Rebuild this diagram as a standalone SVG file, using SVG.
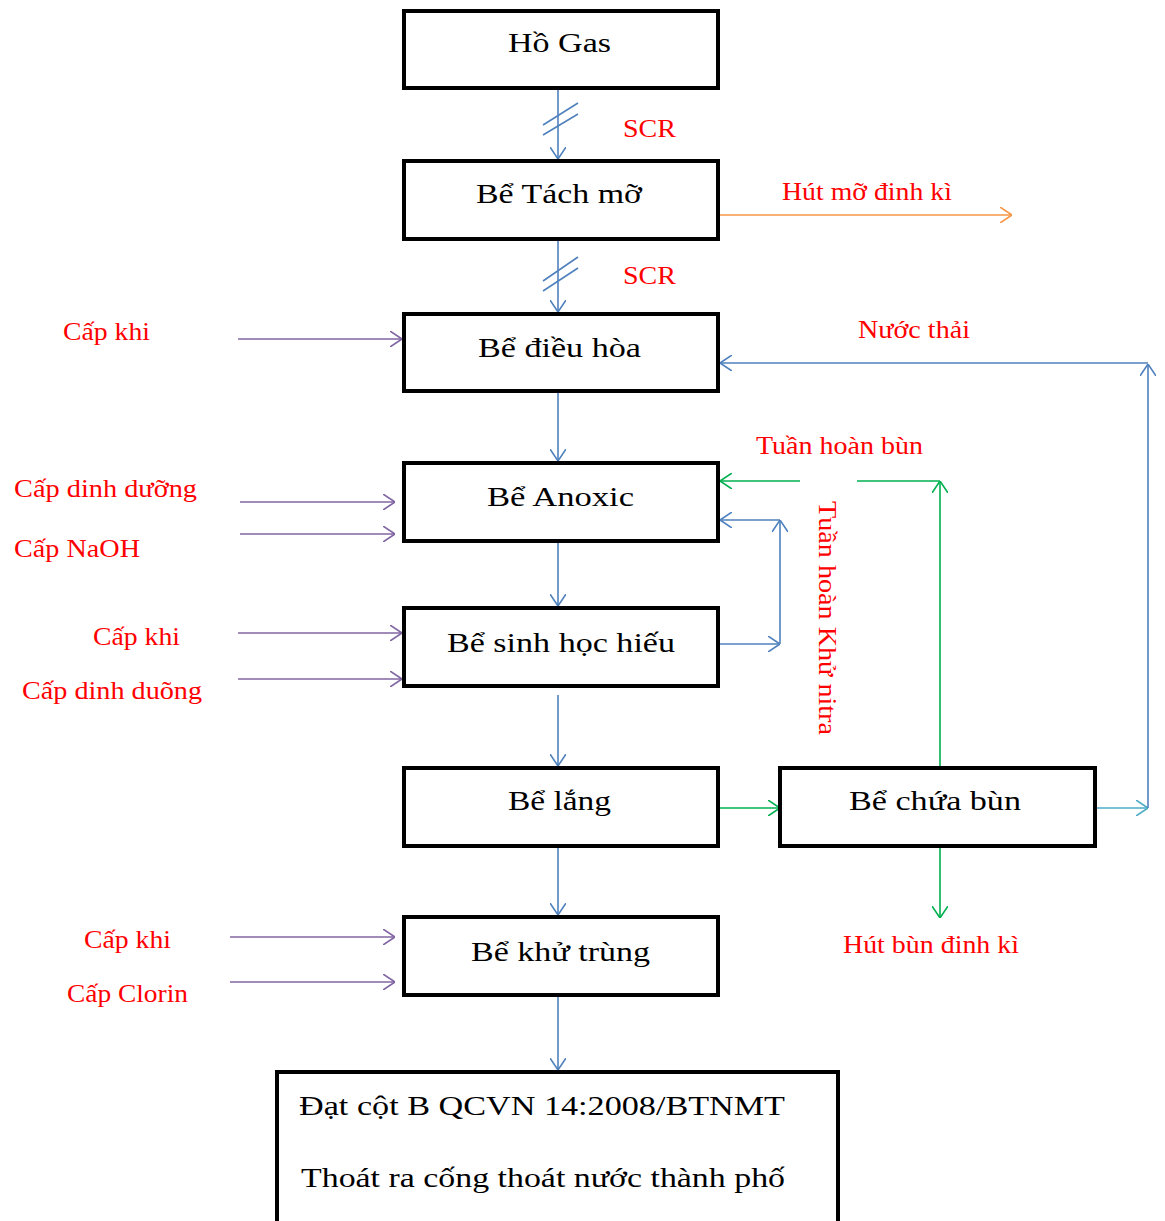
<svg xmlns="http://www.w3.org/2000/svg" width="1165" height="1221" viewBox="0 0 1165 1221">
<style>
.box{fill:#fff;stroke:#000;stroke-width:4}
text{font-family:"Liberation Serif",Tinos,"Times New Roman",Times,"Nimbus Roman","Noto Serif",serif}
.nt{font-size:28px;fill:#000}
.lb{font-size:26px;fill:#ff0000}
.c{fill:none;stroke-width:1.6}
.blue{stroke:#4f81bd}
.cyan{stroke:#4bacc6}
.purple{stroke:#8064a2}
.green{stroke:#00b050}
.orange{stroke:#f79646}
</style>
<defs>
<marker id="mb" viewBox="0 0 12 16" refX="12" refY="8" markerWidth="12" markerHeight="16" markerUnits="userSpaceOnUse" orient="auto"><path d="M0,0 L12,8 L0,16" fill="none" stroke="#4f81bd" stroke-width="1.6"/></marker>
<marker id="mc" viewBox="0 0 12 16" refX="12" refY="8" markerWidth="12" markerHeight="16" markerUnits="userSpaceOnUse" orient="auto"><path d="M0,0 L12,8 L0,16" fill="none" stroke="#4bacc6" stroke-width="1.6"/></marker>
<marker id="mp" viewBox="0 0 12 16" refX="12" refY="8" markerWidth="12" markerHeight="16" markerUnits="userSpaceOnUse" orient="auto"><path d="M0,0 L12,8 L0,16" fill="none" stroke="#8064a2" stroke-width="1.6"/></marker>
<marker id="mg" viewBox="0 0 12 16" refX="12" refY="8" markerWidth="12" markerHeight="16" markerUnits="userSpaceOnUse" orient="auto"><path d="M0,0 L12,8 L0,16" fill="none" stroke="#00b050" stroke-width="1.6"/></marker>
<marker id="mo" viewBox="0 0 12 16" refX="12" refY="8" markerWidth="12" markerHeight="16" markerUnits="userSpaceOnUse" orient="auto"><path d="M0,0 L12,8 L0,16" fill="none" stroke="#f79646" stroke-width="1.6"/></marker>
</defs>

<g id="connectors">
  <path class="c blue" d="M558,88 V159" marker-end="url(#mb)"/>
  <path class="c blue" d="M543,125 L578,103 M543,135 L578,114"/>
  <path class="c blue" d="M558,239 V312" marker-end="url(#mb)"/>
  <path class="c blue" d="M543,281 L578,257 M543,291 L578,268"/>
  <path class="c blue" d="M558,391 V461" marker-end="url(#mb)"/>
  <path class="c blue" d="M558,541 V606" marker-end="url(#mb)"/>
  <path class="c blue" d="M558,695 V766" marker-end="url(#mb)"/>
  <path class="c blue" d="M558,846 V915" marker-end="url(#mb)"/>
  <path class="c blue" d="M558,995 V1070" marker-end="url(#mb)"/>
  <path class="c orange" d="M718,215 H1012" marker-end="url(#mo)"/>
  <path class="c purple" d="M238,339 H402" marker-end="url(#mp)"/>
  <path class="c purple" d="M240,502 H395" marker-end="url(#mp)"/>
  <path class="c purple" d="M240,534 H395" marker-end="url(#mp)"/>
  <path class="c purple" d="M238,633 H402" marker-end="url(#mp)"/>
  <path class="c purple" d="M238,679 H402" marker-end="url(#mp)"/>
  <path class="c purple" d="M230,937 H395" marker-end="url(#mp)"/>
  <path class="c purple" d="M230,982 H395" marker-end="url(#mp)"/>
  <path class="c blue" d="M718,644 H780" marker-end="url(#mb)"/>
  <path class="c blue" d="M780,644 V520" marker-end="url(#mb)"/>
  <path class="c blue" d="M780,520 H720" marker-end="url(#mb)"/>
  <path class="c green" d="M940,768 V481" marker-end="url(#mg)"/>
  <path class="c green" d="M940,481 H857"/>
  <path class="c green" d="M800,481 H720" marker-end="url(#mg)"/>
  <path class="c green" d="M718,808 H780" marker-end="url(#mg)"/>
  <path class="c green" d="M940,846 V918" marker-end="url(#mg)"/>
  <path class="c cyan" d="M1095,808 H1148" marker-end="url(#mc)"/>
  <path class="c blue" d="M1148,808 V364" marker-end="url(#mb)"/>
  <path class="c blue" d="M1148,363 H720" marker-end="url(#mb)"/>
</g>

<g id="labels">
  <text class="lb" x="623" y="137" textLength="53" lengthAdjust="spacingAndGlyphs">SCR</text>
  <text class="lb" x="623" y="284" textLength="53" lengthAdjust="spacingAndGlyphs">SCR</text>
  <text class="lb" x="782" y="200" textLength="170" lengthAdjust="spacingAndGlyphs">Hút mỡ đinh kì</text>
  <text class="lb" x="63" y="340" textLength="87" lengthAdjust="spacingAndGlyphs">Cấp khi</text>
  <text class="lb" x="858" y="338" textLength="112" lengthAdjust="spacingAndGlyphs">Nước thải</text>
  <text class="lb" x="756" y="454" textLength="167" lengthAdjust="spacingAndGlyphs">Tuần hoàn bùn</text>
  <text class="lb" x="14" y="497" textLength="183" lengthAdjust="spacingAndGlyphs">Cấp dinh dưỡng</text>
  <text class="lb" x="14" y="557" textLength="126" lengthAdjust="spacingAndGlyphs">Cấp NaOH</text>
  <text class="lb" x="93" y="645" textLength="87" lengthAdjust="spacingAndGlyphs">Cấp khi</text>
  <text class="lb" x="22" y="699" textLength="180" lengthAdjust="spacingAndGlyphs">Cấp dinh duõng</text>
  <text class="lb" transform="translate(819,501) rotate(90)" x="0" y="0" textLength="234" lengthAdjust="spacingAndGlyphs">Tuần hoàn Khử nitra</text>
  <text class="lb" x="84" y="948" textLength="87" lengthAdjust="spacingAndGlyphs">Cấp khi</text>
  <text class="lb" x="67" y="1002" textLength="121" lengthAdjust="spacingAndGlyphs">Cấp Clorin</text>
  <text class="lb" x="843" y="953" textLength="176" lengthAdjust="spacingAndGlyphs">Hút bùn đinh kì</text>
</g>

<g id="nodes">
<g id="ho-gas"><rect class="box" x="404" y="11" width="314" height="77"/><text class="nt" x="508" y="52" textLength="103" lengthAdjust="spacingAndGlyphs">Hồ Gas</text></g>
<g id="be-tach-mo"><rect class="box" x="404" y="161" width="314" height="78"/><text class="nt" x="476" y="203" textLength="166" lengthAdjust="spacingAndGlyphs">Bể Tách mỡ</text></g>
<g id="be-dieu-hoa"><rect class="box" x="404" y="314" width="314" height="77"/><text class="nt" x="478" y="357" textLength="163" lengthAdjust="spacingAndGlyphs">Bể điều hòa</text></g>
<g id="be-anoxic"><rect class="box" x="404" y="463" width="314" height="78"/><text class="nt" x="487" y="506" textLength="147" lengthAdjust="spacingAndGlyphs">Bể Anoxic</text></g>
<g id="be-sinh-hoc"><rect class="box" x="404" y="608" width="314" height="78"/><text class="nt" x="447" y="652" textLength="228" lengthAdjust="spacingAndGlyphs">Bể sinh học hiếu</text></g>
<g id="be-lang"><rect class="box" x="404" y="768" width="314" height="78"/><text class="nt" x="508" y="810" textLength="103" lengthAdjust="spacingAndGlyphs">Bể lắng</text></g>
<g id="be-chua-bun"><rect class="box" x="780" y="768" width="315" height="78"/><text class="nt" x="849" y="810" textLength="172" lengthAdjust="spacingAndGlyphs">Bể chứa bùn</text></g>
<g id="be-khu-trung"><rect class="box" x="404" y="917" width="314" height="78"/><text class="nt" x="471" y="961" textLength="179" lengthAdjust="spacingAndGlyphs">Bể khử trùng</text></g>
<g id="dau-ra"><rect class="box" x="277" y="1072" width="561" height="152"/>
  <text class="nt" x="299" y="1115" textLength="486" lengthAdjust="spacingAndGlyphs">Đạt cột B QCVN 14:2008/BTNMT</text>
  <text class="nt" x="301" y="1187" textLength="484" lengthAdjust="spacingAndGlyphs">Thoát ra cống thoát nước thành phố</text>
</g>
</g>
</svg>
